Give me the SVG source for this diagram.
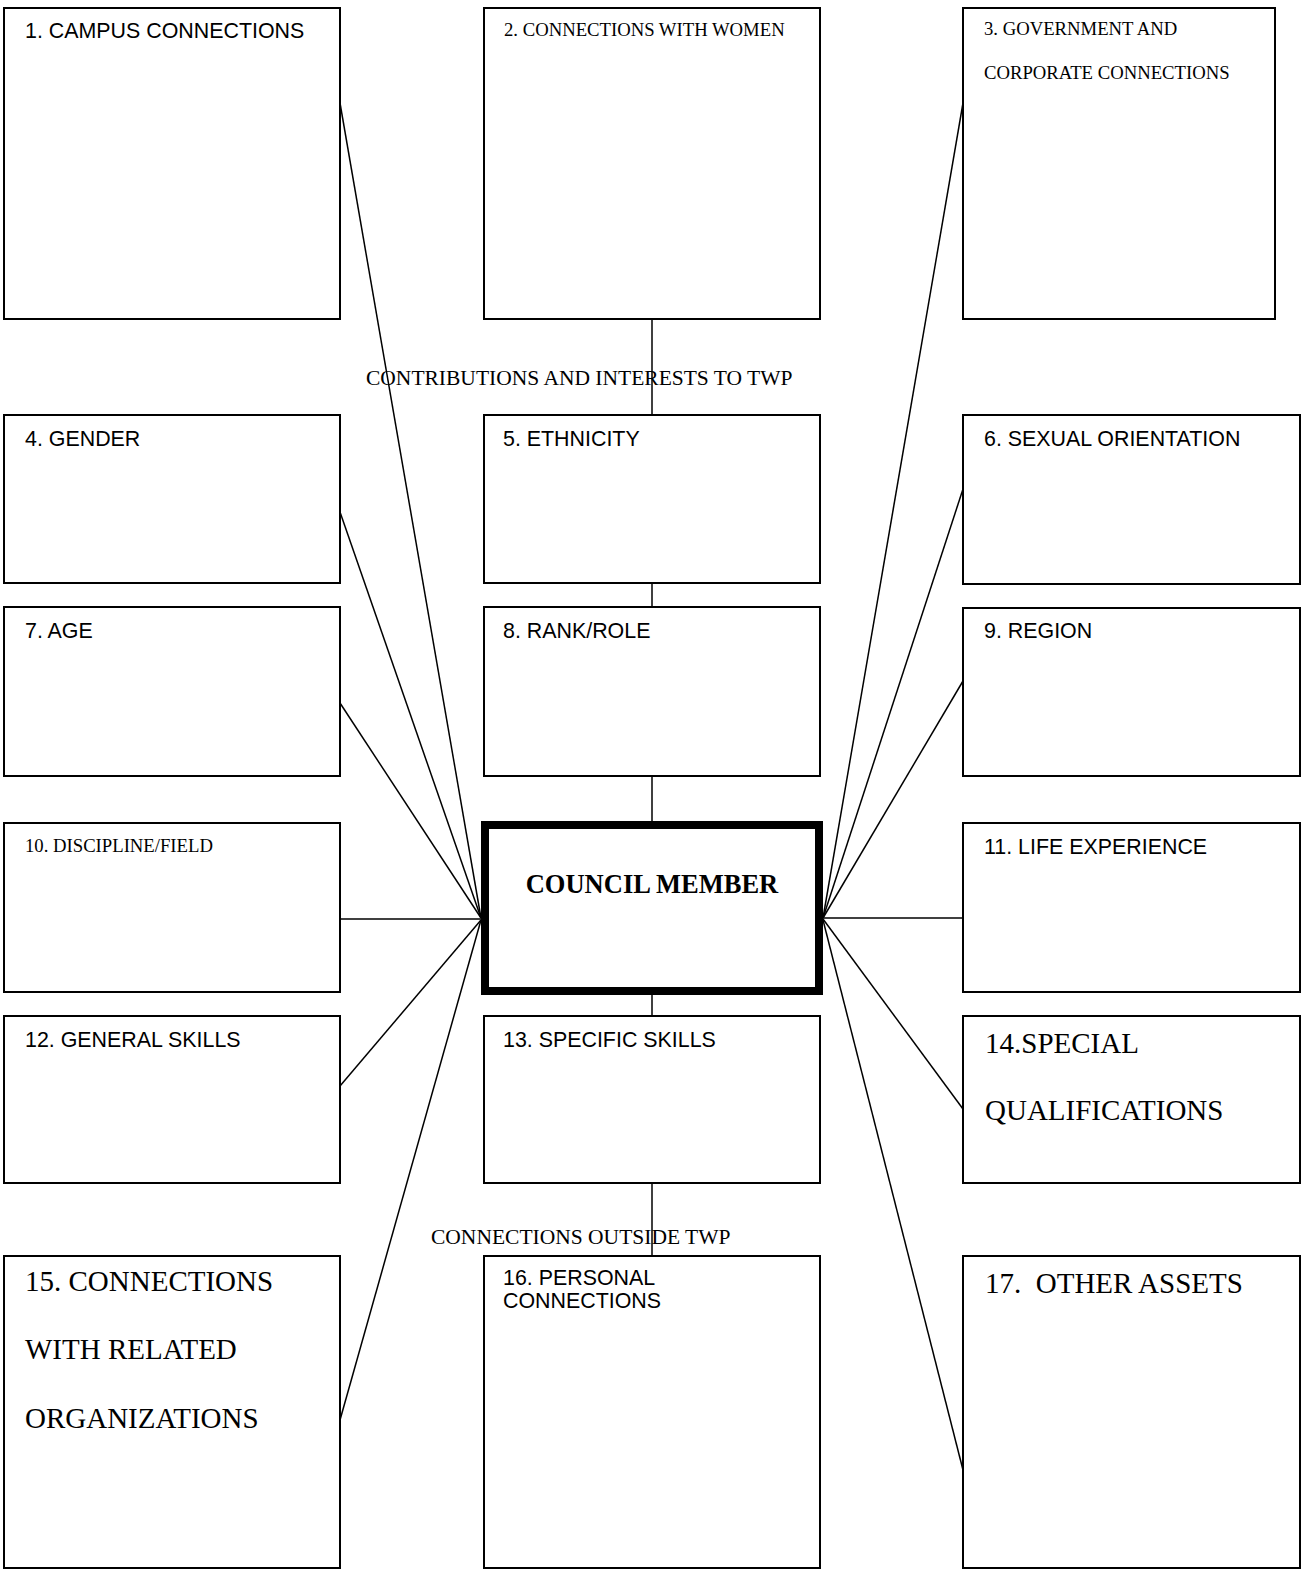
<svg xmlns="http://www.w3.org/2000/svg" width="1306" height="1574" viewBox="0 0 1306 1574">
<style>
.box{fill:#fff;stroke:#000;stroke-width:2}
.hub{fill:#fff;stroke:#000;stroke-width:8}
.c{stroke:#000;stroke-width:1.5;fill:none}
.a{font-family:"Liberation Sans",Arial,sans-serif;font-size:21.4px;fill:#000}
.t{font-family:"Liberation Serif","Times New Roman",serif;font-size:18.7px;fill:#000}
.tm{font-family:"Liberation Serif","Times New Roman",serif;font-size:21.5px;fill:#000}
.tl{font-family:"Liberation Serif","Times New Roman",serif;font-size:29px;fill:#000}
.hb{font-family:"Liberation Serif","Times New Roman",serif;font-size:26.5px;font-weight:bold;fill:#000}
</style>
<rect width="1306" height="1574" fill="#fff"/>
<g id="connectors">
<line class="c" x1="340" y1="103" x2="481" y2="918"/>
<line class="c" x1="340" y1="512" x2="481" y2="918"/>
<line class="c" x1="340" y1="703" x2="481" y2="918"/>
<line class="c" x1="340" y1="919" x2="481" y2="919"/>
<line class="c" x1="340" y1="1086" x2="481" y2="920"/>
<line class="c" x1="340" y1="1420" x2="481" y2="920"/>
<line class="c" x1="963" y1="103" x2="823" y2="918"/>
<line class="c" x1="963" y1="489" x2="823" y2="918"/>
<line class="c" x1="963" y1="681" x2="823" y2="918"/>
<line class="c" x1="963" y1="918" x2="823" y2="918"/>
<line class="c" x1="963" y1="1109" x2="823" y2="919"/>
<line class="c" x1="963" y1="1470" x2="823" y2="920"/>
<line class="c" x1="652" y1="319" x2="652" y2="415"/>
<line class="c" x1="652" y1="583" x2="652" y2="607"/>
<line class="c" x1="652" y1="776" x2="652" y2="821"/>
<line class="c" x1="652" y1="995" x2="652" y2="1016"/>
<line class="c" x1="652" y1="1183" x2="652" y2="1256"/>
</g>
<g id="label-contributions"><text class="tm" x="366" y="385">CONTRIBUTIONS AND INTERESTS TO TWP</text></g>
<g id="label-outside"><text class="tm" x="431" y="1244">CONNECTIONS OUTSIDE TWP</text></g>
<g id="n1"><rect class="box" x="4" y="8" width="336" height="311"/><text class="a" x="25" y="38">1. CAMPUS CONNECTIONS</text></g>
<g id="n2"><rect class="box" x="484" y="8" width="336" height="311"/><text class="t" x="504" y="36">2. CONNECTIONS WITH WOMEN</text></g>
<g id="n3"><rect class="box" x="963" y="8" width="312" height="311"/><text class="t" x="984" y="35">3. GOVERNMENT AND</text><text class="t" x="984" y="79">CORPORATE CONNECTIONS</text></g>
<g id="n4"><rect class="box" x="4" y="415" width="336" height="168"/><text class="a" x="25" y="446">4. GENDER</text></g>
<g id="n5"><rect class="box" x="484" y="415" width="336" height="168"/><text class="a" x="503" y="446">5. ETHNICITY</text></g>
<g id="n6"><rect class="box" x="963" y="415" width="337" height="169"/><text class="a" x="984" y="446">6. SEXUAL ORIENTATION</text></g>
<g id="n7"><rect class="box" x="4" y="607" width="336" height="169"/><text class="a" x="25" y="638">7. AGE</text></g>
<g id="n8"><rect class="box" x="484" y="607" width="336" height="169"/><text class="a" x="503" y="638">8. RANK/ROLE</text></g>
<g id="n9"><rect class="box" x="963" y="608" width="337" height="168"/><text class="a" x="984" y="638">9. REGION</text></g>
<g id="n10"><rect class="box" x="4" y="823" width="336" height="169"/><text class="t" x="25" y="852">10. DISCIPLINE/FIELD</text></g>
<g id="hub"><rect class="hub" x="485" y="825" width="334" height="166"/><text class="hb" x="652" y="893" text-anchor="middle">COUNCIL MEMBER</text></g>
<g id="n11"><rect class="box" x="963" y="823" width="337" height="169"/><text class="a" x="984" y="854">11. LIFE EXPERIENCE</text></g>
<g id="n12"><rect class="box" x="4" y="1016" width="336" height="167"/><text class="a" x="25" y="1047">12. GENERAL SKILLS</text></g>
<g id="n13"><rect class="box" x="484" y="1016" width="336" height="167"/><text class="a" x="503" y="1047">13. SPECIFIC SKILLS</text></g>
<g id="n14"><rect class="box" x="963" y="1016" width="337" height="167"/><text class="tl" x="985" y="1053">14.SPECIAL</text><text class="tl" x="985" y="1120">QUALIFICATIONS</text></g>
<g id="n15"><rect class="box" x="4" y="1256" width="336" height="312"/><text class="tl" x="25" y="1291">15. CONNECTIONS</text><text class="tl" x="25" y="1359">WITH RELATED</text><text class="tl" x="25" y="1428">ORGANIZATIONS</text></g>
<g id="n16"><rect class="box" x="484" y="1256" width="336" height="312"/><text class="a" x="503" y="1285">16. PERSONAL</text><text class="a" x="503" y="1308">CONNECTIONS</text></g>
<g id="n17"><rect class="box" x="963" y="1256" width="337" height="312"/><text class="tl" x="985" y="1293" xml:space="preserve">17.  OTHER ASSETS</text></g>
</svg>
